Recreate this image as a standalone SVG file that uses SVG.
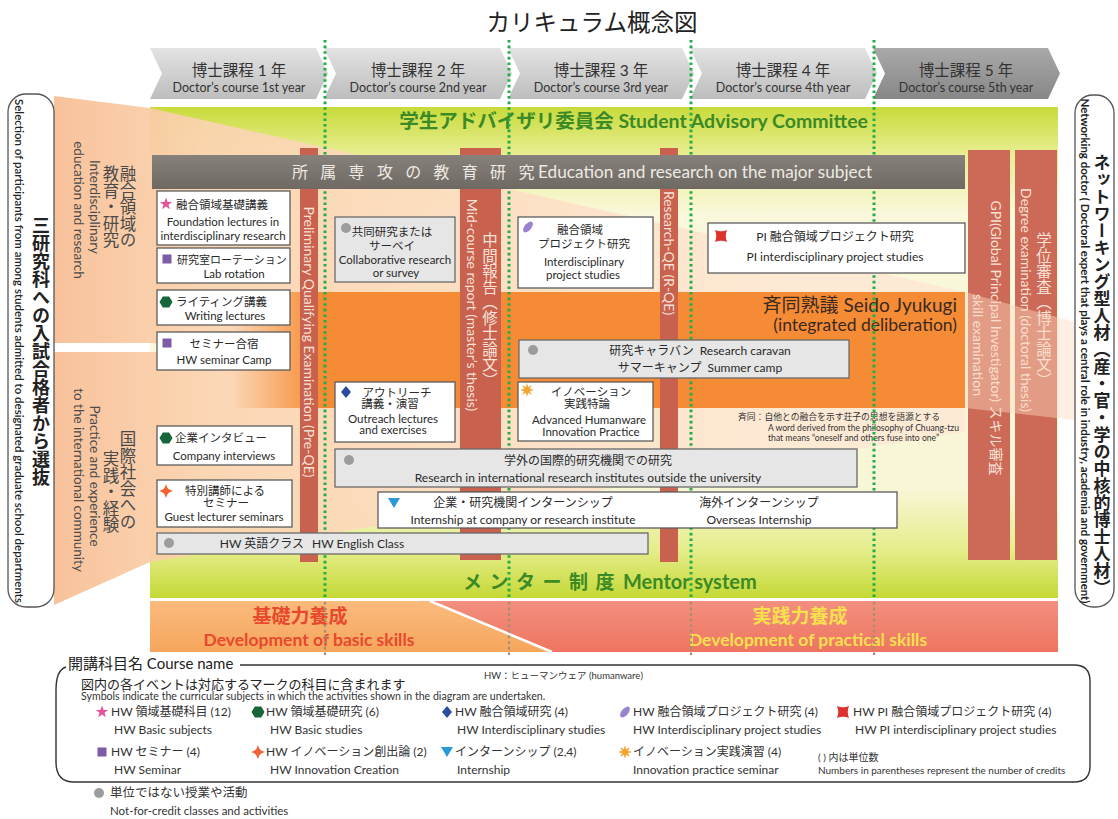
<svg xmlns="http://www.w3.org/2000/svg" width="1118" height="819" viewBox="0 0 1118 819" fill="#2a2a2a">
<defs>
<style>
text{font-family:Lato,"Noto Sans CJK JP",sans-serif}
.jp{font-family:"Noto Sans CJK JP",sans-serif}
.m{text-anchor:middle}
.e{text-anchor:end}
.cj{font-size:15.5px;text-anchor:middle;fill:#333}
.ce{font-size:12.5px;text-anchor:middle;fill:#333}
.box{fill:#fff;stroke:#5c5c5c;stroke-width:1.3}
.gbox{fill:#e6e6e6;stroke:#6a6a6a;stroke-width:1.3}
.bj{font-size:11.5px}
.be{font-size:11.5px}
.bar{fill:#c8614e}
.bar2{fill:#cc6a57}
.bt{fill:#f7e0d6;font-size:14px}
.btj{fill:#f7e0d6;font-size:15.5px}
.vt{writing-mode:vertical-rl;text-anchor:middle}
.rc{dominant-baseline:central}
.dot{stroke:#22ad48;stroke-width:3;stroke-dasharray:2.6 3;fill:none}
.dotb{stroke:#a08f70;stroke-width:2.2;stroke-dasharray:2.6 3;fill:none}
.grn{fill:#3b8a26;font-weight:700}
.lj{font-size:12px;fill:#333}
.le{font-size:12px;fill:#333}
.lab{font-size:16.5px;fill:#4a4a4a}
.labe{font-size:13.5px;fill:#4a4a4a}
.red{fill:#e8482c;font-weight:700}
.yel{fill:#f7e04e;font-weight:700}
</style>
<linearGradient id="gChev" x1="0" y1="0" x2="0" y2="1"><stop offset="0" stop-color="#e3e3e3"/><stop offset="1" stop-color="#bdbdbd"/></linearGradient>
<linearGradient id="gChev5" x1="0" y1="0" x2="0" y2="1"><stop offset="0" stop-color="#a9a9a9"/><stop offset="1" stop-color="#878787"/></linearGradient>
<linearGradient id="gBand" x1="0" y1="0" x2="0" y2="1"><stop offset="0" stop-color="#c8db3a"/><stop offset="0.1" stop-color="#e9ee95"/><stop offset="0.22" stop-color="#faf8dc"/><stop offset="0.78" stop-color="#f8f6d6"/><stop offset="0.9" stop-color="#e6ed8c"/><stop offset="1" stop-color="#c4d935"/></linearGradient>
<linearGradient id="gPeach" gradientUnits="userSpaceOnUse" x1="54" y1="0" x2="800" y2="0"><stop offset="0" stop-color="#f7bd92"/><stop offset="0.2" stop-color="#fbd3b0"/><stop offset="1" stop-color="#fde9d5"/></linearGradient>
<linearGradient id="gOrange" gradientUnits="userSpaceOnUse" x1="232" y1="0" x2="318" y2="0"><stop offset="0" stop-color="#f68b35" stop-opacity="0"/><stop offset="1" stop-color="#f68b35"/></linearGradient>
<linearGradient id="gBasic" x1="0" y1="0" x2="0" y2="1"><stop offset="0" stop-color="#fabb7e"/><stop offset="1" stop-color="#f6a65c"/></linearGradient>
<linearGradient id="gPract" x1="0" y1="0" x2="0" y2="1"><stop offset="0" stop-color="#f28f7e"/><stop offset="1" stop-color="#ee7560"/></linearGradient>
<linearGradient id="gMajor" x1="0" y1="0" x2="0" y2="1"><stop offset="0" stop-color="#86817a"/><stop offset="1" stop-color="#6e6963"/></linearGradient>
<g id="sStar"><polygon points="0,-6.5 1.6,-2 6.2,-2 2.5,0.8 3.9,5.3 0,2.6 -3.9,5.3 -2.5,0.8 -6.2,-2 -1.6,-2" fill="#e5529b"/></g>
<g id="sHex"><polygon points="-6.5,0 -3.2,-5.6 3.2,-5.6 6.5,0 3.2,5.6 -3.2,5.6" fill="#17653a"/></g>
<g id="sDia"><polygon points="0,-6 5,0 0,6 -5,0" fill="#2d4c9e"/></g>
<g id="sEll"><ellipse rx="6.5" ry="3.4" transform="rotate(-50)" fill="#9a82cc"/></g>
<g id="sPI"><path d="M-6,-6 Q0,-3.5 6,-6 Q3.5,0 6,6 Q0,3.5 -6,6 Q-3.5,0 -6,-6Z" fill="#e0322c"/></g>
<g id="sSq"><rect x="-4.5" y="-4.5" width="9" height="9" fill="#7d5ba6"/></g>
<g id="sSpk"><path d="M0,-7 Q1.2,-1.2 7,0 Q1.2,1.2 0,7 Q-1.2,1.2 -7,0 Q-1.2,-1.2 0,-7Z" fill="#ef6437"/></g>
<g id="sTri"><polygon points="-6,-5 6,-5 0,5" fill="#2a9ad6"/></g>
<g id="sAst"><polygon points="7,0 2.77,1.15 4.95,4.95 1.15,2.77 0,7 -1.15,2.77 -4.95,4.95 -2.77,1.15 -7,0 -2.77,-1.15 -4.95,-4.95 -1.15,-2.77 0,-7 1.15,-2.77 4.95,-4.95 2.77,-1.15" fill="#f4a530"/></g>
<g id="sCir"><circle r="5" fill="#9c9c9c"/></g>
</defs>

<rect x="0" y="0" width="1118" height="819" fill="#fff"/>

<text id="title" class="jp m" x="592" y="31" font-size="23.5" fill="#222">カリキュラム概念図</text>

<g id="years">
<g id="year1"><polygon fill="url(#gChev)" points="150,48 316,48 328,73.5 316,99 150,99 162,73.5"/><text class="cj" x="239" y="76">博士課程 1 年</text><text class="ce" x="239" y="92">Doctor’s course 1st year</text></g>
<g id="year2"><polygon fill="url(#gChev)" points="324,48 500,48 512,73.5 500,99 324,99 336,73.5"/><text class="cj" x="418" y="76">博士課程 2 年</text><text class="ce" x="418" y="92">Doctor’s course 2nd year</text></g>
<g id="year3"><polygon fill="url(#gChev)" points="508,48 682,48 694,73.5 682,99 508,99 520,73.5"/><text class="cj" x="601" y="76">博士課程 3 年</text><text class="ce" x="601" y="92">Doctor’s course 3rd year</text></g>
<g id="year4"><polygon fill="url(#gChev)" points="690,48 865,48 877,73.5 865,99 690,99 702,73.5"/><text class="cj" x="783" y="76">博士課程 4 年</text><text class="ce" x="783" y="92">Doctor’s course 4th year</text></g>
<g id="year5"><polygon fill="url(#gChev5)" points="873,48 1048,48 1060,73.5 1048,99 873,99 885,73.5"/><text class="cj" x="966" y="76">博士課程 5 年</text><text class="ce" x="966" y="92">Doctor’s course 5th year</text></g>
</g>

<g id="background">
<rect x="150" y="107" width="908" height="491" fill="url(#gBand)"/>
<polygon points="54,96 150,108 965,292 965,408 300,352 150,343 54,343" fill="url(#gPeach)" fill-opacity="0.92"/>
<polygon points="54,352 300,352 965,408 965,432 150,562 54,605" fill="url(#gPeach)" fill-opacity="0.92"/>
<rect x="232" y="292" width="733" height="116" fill="url(#gOrange)"/>
</g>

<g id="n_advisory"><text class="grn e" x="868" y="128" font-size="19.5">学生アドバイザリ委員会 Student Advisory Committee</text></g>
<g id="n_mentor"><text class="grn" y="589" font-size="19"><tspan x="463" class="jp" letter-spacing="7.5">メンター制度</tspan><tspan x="623" font-size="20">Mentor system</tspan></text></g>
<g id="n_seido">
<text class="e" x="957" y="312" font-size="19" fill="#3a2a1e">斉同熟議 Seido Jyukugi</text>
<text class="e" x="957" y="331" font-size="17.5" fill="#3a2a1e">(integrated deliberation)</text>
<text x="738" y="420" font-size="8.8" fill="#333">斉同：自他との融合を示す荘子の思想を語源とする</text>
<text x="768" y="431" font-size="8.6" fill="#333">A word derived from the philosophy of Chuang-tzu</text>
<text x="768" y="441" font-size="8.6" fill="#333">that means “oneself and others fuse into one”</text>
</g>

<g id="n_basic">
<polygon points="150,601 430,601 552,652 150,652" fill="url(#gBasic)"/>
<text class="jp m red" x="300" y="623" font-size="19">基礎力養成</text>
<text class="m red" x="309" y="646" font-size="17.5">Development of basic skills</text>
</g>
<g id="n_practical">
<polygon points="430,601 1058,601 1058,652 552,652" fill="url(#gPract)"/>
<line x1="430" y1="601" x2="552" y2="652" stroke="#fff" stroke-width="2.5"/>
<text class="jp m yel" x="800" y="623" font-size="19">実践力養成</text>
<text class="m yel" x="808" y="646" font-size="17.5">Development of practical skills</text>
</g>

<g id="connectors">
<line class="dot" x1="325" y1="40" x2="325" y2="600"/>
<line class="dot" x1="509" y1="40" x2="509" y2="600"/>
<line class="dot" x1="691" y1="40" x2="691" y2="600"/>
<line class="dot" x1="874" y1="40" x2="874" y2="600"/>
<line class="dotb" x1="325" y1="602" x2="325" y2="656"/>
<line class="dotb" x1="509" y1="602" x2="509" y2="656"/>
<line class="dotb" x1="691" y1="602" x2="691" y2="656"/>
<line class="dotb" x1="874" y1="602" x2="874" y2="656"/>
</g>

<g id="n_pqe"><rect class="bar" x="300" y="148" width="18" height="414"/><text class="bt m rc" transform="translate(309,342) rotate(90)">Preliminary Qualifying Examination (Pre-QE)</text></g>
<g id="n_mid"><rect class="bar" x="460" y="148" width="41" height="412"/><text class="bt m rc" transform="translate(472,305) rotate(90)">Mid-course report (master’s thesis)</text><text class="btj vt jp" x="490" y="310">中間報告（修士論文）</text></g>
<g id="n_rqe"><rect class="bar" x="660" y="148" width="18" height="414"/><text class="bt m rc" transform="translate(669,253) rotate(90)">Research-QE (R-QE)</text></g>
<g id="n_gpi"><rect class="bar2" x="968" y="150" width="42" height="410"/><text class="bt m rc" transform="translate(996,338) rotate(90)">GPI(Global Principal Investigator) スキル審査</text><text class="bt m rc" transform="translate(978,345) rotate(90)">skill examination</text></g>
<g id="n_degree"><rect class="bar2" x="1015" y="150" width="42" height="410"/><text class="bt m rc" transform="translate(1026,300) rotate(90)">Degree examination (doctoral thesis)</text><text class="btj vt jp" x="1044" y="310">学位審査（博士論文）</text></g>
<polygon points="965,292 1075,322 1075,420 965,408" fill="#fcd9c2" fill-opacity="0.45"/>

<g id="n_major"><rect x="152" y="155" width="813" height="34" fill="url(#gMajor)"/><text class="jp" x="292" y="178" font-size="16" letter-spacing="12.3" fill="#eeeae2">所属専攻の教育研究</text><text x="538" y="178" font-size="17.2" fill="#eeeae2">Education and research on the major subject</text></g>

<g id="n_foundation"><rect class="box" x="157" y="191" width="133" height="54"/><use href="#sStar" x="166" y="204"/><text class="bj" x="176" y="209">融合領域基礎講義</text><text class="be m" x="223" y="226">Foundation lectures in</text><text class="be m" x="223" y="240">interdisciplinary research</text></g>
<g id="n_labrot"><rect class="box" x="157" y="248" width="133" height="35"/><use href="#sSq" x="167" y="259"/><text x="177" y="264" font-size="11">研究室ローテーション</text><text class="be m" x="234" y="278">Lab rotation</text></g>
<g id="n_writing"><rect class="box" x="157" y="290" width="133" height="35"/><use href="#sHex" x="166" y="302"/><text class="bj" x="176" y="306">ライティング講義</text><text class="be m" x="225" y="320">Writing lectures</text></g>
<g id="n_camp"><rect class="box" x="157" y="332" width="133" height="38"/><use href="#sSq" x="167" y="343"/><text class="bj m" x="224" y="348">セミナー合宿</text><text class="be m" x="224" y="364">HW seminar Camp</text></g>
<g id="n_company"><rect class="box" x="157" y="426" width="135" height="39"/><use href="#sHex" x="166" y="438"/><text class="bj" x="175" y="442">企業インタビュー</text><text class="be m" x="224" y="460">Company interviews</text></g>
<g id="n_guest"><rect class="box" x="157" y="480" width="135" height="47"/><use href="#sSpk" x="166" y="491"/><text class="bj m" x="225" y="495">特別講師による</text><text class="bj m" x="226" y="507">セミナー</text><text class="be m" x="224" y="521">Guest lecturer seminars</text></g>
<g id="n_english"><rect class="gbox" x="157" y="533" width="491" height="21"/><use href="#sCir" x="169" y="543"/><text class="m" x="312" y="548" font-size="12">HW 英語クラス<tspan dx="8">HW English Class</tspan></text></g>
<g id="n_collab"><rect class="gbox" x="335" y="217" width="120" height="65"/><use href="#sCir" x="346" y="228"/><text class="bj m" x="392" y="236">共同研究または</text><text class="bj m" x="392" y="250">サーベイ</text><text class="be m" x="395" y="264">Collaborative research</text><text class="be m" x="396" y="277">or survey</text></g>
<g id="n_outreach"><rect class="box" x="335" y="382" width="120" height="60"/><use href="#sDia" x="346" y="392"/><text class="bj m" x="397" y="397">アウトリーチ</text><text class="bj m" x="390" y="408">講義・演習</text><text class="be m" x="393" y="423">Outreach lectures</text><text class="be m" x="393" y="434">and exercises</text></g>
<g id="n_intl"><rect class="gbox" x="335" y="449" width="522" height="38"/><use href="#sCir" x="349" y="460"/><text class="m" x="588" y="465" font-size="12">学外の国際的研究機関での研究</text><text class="m" x="588" y="482" font-size="12">Research in international research institutes outside the university</text></g>
<g id="n_intern"><rect class="box" x="378" y="492" width="519" height="36"/><use href="#sTri" x="394" y="503"/><text class="m" x="523" y="507" font-size="12">企業・研究機関インターンシップ</text><text class="m" x="523" y="524" font-size="12">Internship at company or research institute</text><text class="m" x="759" y="507" font-size="12">海外インターンシップ</text><text class="m" x="759" y="524" font-size="12">Overseas Internship</text></g>
<g id="n_project"><rect class="box" x="518" y="217" width="135" height="71"/><use href="#sEll" x="528" y="227"/><text class="bj m" x="580" y="234">融合領域</text><text class="bj m" x="584" y="248">プロジェクト研究</text><text class="be m" x="584" y="266">Interdisciplinary</text><text class="be m" x="583" y="279">project studies</text></g>
<g id="n_caravan"><rect class="gbox" x="519" y="340" width="330" height="38"/><use href="#sCir" x="533" y="350"/><text class="m" x="700" y="355" font-size="12">研究キャラバン<tspan dx="6">Research caravan</tspan></text><text class="m" x="700" y="372" font-size="12">サマーキャンプ<tspan dx="6">Summer camp</tspan></text></g>
<g id="n_innov"><rect class="box" x="518" y="382" width="135" height="59"/><use href="#sAst" x="527" y="390"/><text class="bj m" x="591" y="396">イノベーション</text><text class="bj m" x="587" y="408">実践特論</text><text class="be m" x="589" y="424">Advanced Humanware</text><text class="be m" x="591" y="436">Innovation Practice</text></g>
<g id="n_pi"><rect class="box" x="708" y="223" width="257" height="50"/><use href="#sPI" x="721" y="236"/><text class="m" x="835" y="241" font-size="12">PI 融合領域プロジェクト研究</text><text class="m" x="835" y="261" font-size="12">PI interdisciplinary project studies</text></g>

<g id="n_left">
<rect x="8" y="94" width="46" height="513" rx="18" fill="#fff" stroke="#555" stroke-width="1.3"/>
<text class="m rc" transform="translate(19,351) rotate(90)" font-size="10.5" font-weight="600" textLength="504" lengthAdjust="spacingAndGlyphs" fill="#222">Selection of participants from among students admitted to designated graduate school departments</text>
<text class="vt jp" x="41" y="351" font-size="18" font-weight="600" fill="#222">三研究科への入試合格者から選抜</text>
</g>
<g id="n_interdisc">
<text class="lab vt jp" x="128" y="207">融合領域の</text>
<text class="lab vt jp" x="111" y="207">教育・研究</text>
<text class="labe m rc" transform="translate(95,207) rotate(90)">Interdisciplinary</text>
<text class="labe m rc" transform="translate(79,210) rotate(90)">education and research</text>
</g>
<g id="n_practice">
<text class="lab vt jp" x="128" y="480">国際社会への</text>
<text class="lab vt jp" x="111" y="492">実践・経験</text>
<text class="labe m rc" transform="translate(95,476) rotate(90)">Practice and experience</text>
<text class="labe m rc" transform="translate(79,480) rotate(90)">to the international community</text>
</g>
<g id="n_right">
<rect x="1075" y="95" width="39" height="512" rx="18" fill="#fff" stroke="#555" stroke-width="1.3"/>
<text class="m rc" transform="translate(1085,351) rotate(90)" font-size="10.5" font-weight="700" textLength="505" lengthAdjust="spacingAndGlyphs" fill="#222">Networking doctor ( Doctoral expert that plays a central role in industry, academia and government)</text>
<text class="vt jp" x="1102" y="375" font-size="17" font-weight="600" fill="#222">ネットワーキング型人材（産・官・学の中核的博士人材）</text>
</g>

<g id="n_legend">
<path d="M240,665 H1074 Q1090,665 1090,681 V766 Q1090,782 1074,782 H74 Q56,782 56,762 V690 Q56,670 66,667" fill="none" stroke="#333" stroke-width="1.4"/>
<text x="68" y="669" font-size="15" fill="#222">開講科目名 Course name</text>
<text x="484" y="679" font-size="9.5" fill="#333">HW：ヒューマンウェア (humanware)</text>
<text x="81" y="689" font-size="13" fill="#222">図内の各イベントは対応するマークの科目に含まれます</text>
<text x="81" y="700" font-size="10.6" fill="#333">Symbols indicate the curricular subjects in which the activities shown in the diagram are undertaken.</text>
<use href="#sStar" x="102" y="712"/><text class="lj" x="111" y="716">HW 領域基礎科目 (12)</text><text class="le" x="114" y="734">HW Basic subjects</text>
<use href="#sHex" x="258" y="712"/><text class="lj" x="266" y="716">HW 領域基礎研究 (6)</text><text class="le" x="270" y="734">HW Basic studies</text>
<use href="#sDia" x="447" y="712"/><text class="lj" x="455" y="716">HW 融合領域研究 (4)</text><text class="le" x="457" y="734">HW Interdisciplinary studies</text>
<use href="#sEll" x="625" y="712"/><text class="lj" x="633" y="716">HW 融合領域プロジェクト研究 (4)</text><text class="le" x="633" y="734">HW Interdisciplinary project studies</text>
<use href="#sPI" x="843" y="712"/><text class="lj" x="853" y="716">HW PI 融合領域プロジェクト研究 (4)</text><text class="le" x="855" y="734">HW PI interdisciplinary project studies</text>
<use href="#sSq" x="102" y="752"/><text class="lj" x="111" y="756">HW セミナー (4)</text><text class="le" x="114" y="774">HW Seminar</text>
<use href="#sSpk" x="258" y="752"/><text class="lj" x="266" y="756">HW イノベーション創出論 (2)</text><text class="le" x="270" y="774">HW Innovation Creation</text>
<use href="#sTri" x="447" y="752"/><text class="lj" x="455" y="756">インターンシップ (2,4)</text><text class="le" x="457" y="774">Internship</text>
<use href="#sAst" x="625" y="752"/><text class="lj" x="633" y="756">イノベーション実践演習 (4)</text><text class="le" x="633" y="774">Innovation practice seminar</text>
<text x="818" y="761" font-size="10" fill="#333">( ) 内は単位数</text>
<text x="818" y="774" font-size="10" fill="#333">Numbers in parentheses represent the number of credits</text>
<use href="#sCir" x="99" y="793"/><text x="110" y="797" font-size="12.5" fill="#333">単位ではない授業や活動</text>
<text x="110" y="815" font-size="11.5" fill="#333">Not-for-credit classes and activities</text>
</g>
</svg>
